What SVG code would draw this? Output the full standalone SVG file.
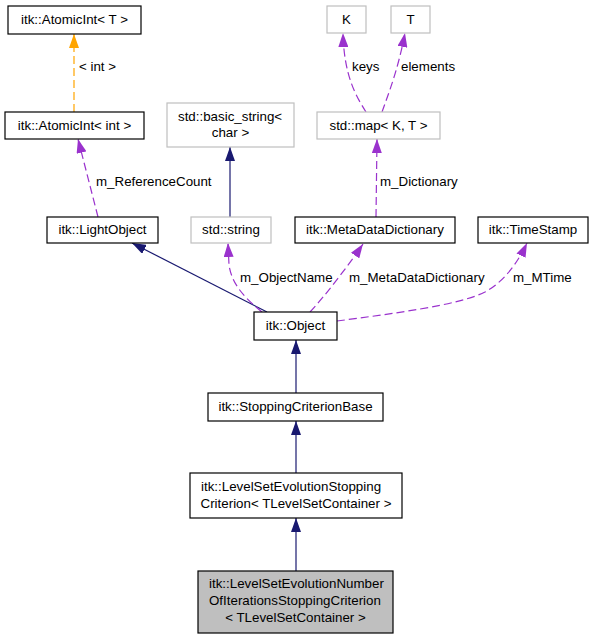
<svg xmlns="http://www.w3.org/2000/svg" width="593" height="640" viewBox="0 0 593 640">
<style>
.nb{fill:#ffffff;stroke:#000000;stroke-width:1.2}
.ng{fill:#ffffff;stroke:#bfbfbf;stroke-width:1.2}
.nf{fill:#bfbfbf;stroke:#000000;stroke-width:1.2}
text{font-family:"Liberation Sans",Arial,Helvetica,sans-serif;font-size:13.33px;fill:#000000}
.c{text-anchor:middle}
.s{text-anchor:start}
.e{fill:none;stroke-width:1.2}
.navy{stroke:#191970}
.purple{stroke:#9a32cd;stroke-dasharray:8,4}
.orange{stroke:#ffa500;stroke-dasharray:8,4}
</style>
<defs>
<marker id="an" viewBox="0 0 14 10" refX="14" refY="5" markerWidth="14" markerHeight="10" markerUnits="userSpaceOnUse" orient="auto"><path d="M0,0 L14,5 L0,10 z" fill="#191970"/></marker>
<marker id="ap" viewBox="0 0 14 10" refX="14" refY="5" markerWidth="14" markerHeight="10" markerUnits="userSpaceOnUse" orient="auto"><path d="M0,0 L14,5 L0,10 z" fill="#9a32cd"/></marker>
<marker id="ao" viewBox="0 0 14 10" refX="14" refY="5" markerWidth="14" markerHeight="10" markerUnits="userSpaceOnUse" orient="auto"><path d="M0,0 L14,5 L0,10 z" fill="#ffa500"/></marker>
</defs>
<rect width="593" height="640" fill="#ffffff"/>
<g id="edges">
<path class="e orange" d="M74,112 L74,34" marker-end="url(#ao)"/>
<text class="s" x="79" y="71">&lt; int &gt;</text>
<path class="e purple" d="M98,217 L78,139" marker-end="url(#ap)"/>
<text class="s" x="96" y="186">m_ReferenceCount</text>
<path class="e navy" d="M230,217 L230,147" marker-end="url(#an)"/>
<path class="e purple" d="M366,112 C356,96 344,76 343,33" marker-end="url(#ap)"/>
<text class="s" x="352" y="71">keys</text>
<path class="e purple" d="M382,112 C388,95 398,70 405,33" marker-end="url(#ap)"/>
<text class="s" x="401" y="71">elements</text>
<path class="e purple" d="M376,217 L377,139" marker-end="url(#ap)"/>
<text class="s" x="380" y="186">m_Dictionary</text>
<path class="e navy" d="M267,312 L132,243" marker-end="url(#an)"/>
<path class="e purple" d="M262,312 C245,298 232,285 229,265 L228,243" marker-end="url(#ap)"/>
<text class="s" x="240" y="282">m_ObjectName</text>
<path class="e purple" d="M310,312 C325,296 348,266 363,244" marker-end="url(#ap)"/>
<text class="s" x="349" y="282">m_MetaDataDictionary</text>
<path class="e purple" d="M337,321 C390,314 460,305 485,292 C505,281 518,262 527,243" marker-end="url(#ap)"/>
<text class="s" x="513" y="282">m_MTime</text>
<path class="e navy" d="M296,393 L296,340" marker-end="url(#an)"/>
<path class="e navy" d="M296,473 L296,421" marker-end="url(#an)"/>
<path class="e navy" d="M296,571 L296,518" marker-end="url(#an)"/>
</g>
<g id="atomicint_t"><rect class="nb" x="8" y="6" width="133" height="28"/><text class="c" x="74.5" y="24">itk::AtomicInt&lt; T &gt;</text></g>
<g id="atomicint_int"><rect class="nb" x="5" y="112" width="139" height="27"/><text class="c" x="74.5" y="130">itk::AtomicInt&lt; int &gt;</text></g>
<g id="basic_string"><rect class="ng" x="167" y="103" width="127" height="44"/><text class="s" x="178" y="121">std::basic_string&lt;</text><text class="c" x="230.5" y="137">char &gt;</text></g>
<g id="k"><rect class="ng" x="327" y="6" width="39" height="27"/><text class="c" x="346.5" y="24">K</text></g>
<g id="t"><rect class="ng" x="391" y="6" width="39" height="27"/><text class="c" x="410.5" y="24">T</text></g>
<g id="map"><rect class="ng" x="317" y="112" width="123" height="27"/><text class="c" x="378.5" y="130">std::map&lt; K, T &gt;</text></g>
<g id="lightobject"><rect class="nb" x="47" y="217" width="111" height="26"/><text class="c" x="102.5" y="234">itk::LightObject</text></g>
<g id="string"><rect class="ng" x="191" y="217" width="80" height="26"/><text class="c" x="231" y="234">std::string</text></g>
<g id="metadatadictionary"><rect class="nb" x="295" y="217" width="160" height="26"/><text class="c" x="375" y="234">itk::MetaDataDictionary</text></g>
<g id="timestamp"><rect class="nb" x="478" y="217" width="110" height="26"/><text class="c" x="533" y="234">itk::TimeStamp</text></g>
<g id="object"><rect class="nb" x="254" y="312" width="83" height="28"/><text class="c" x="295.5" y="330">itk::Object</text></g>
<g id="stoppingcriterionbase"><rect class="nb" x="208" y="393" width="175" height="28"/><text class="c" x="295.5" y="411">itk::StoppingCriterionBase</text></g>
<g id="levelsetevolutionstopping"><rect class="nb" x="190" y="473" width="212" height="45"/><text class="s" x="201" y="491">itk::LevelSetEvolutionStopping</text><text class="c" x="296" y="508">Criterion&lt; TLevelSetContainer &gt;</text></g>
<g id="numberofiterations"><rect class="nf" x="198" y="571" width="195" height="62"/><text class="s" x="209" y="588">itk::LevelSetEvolutionNumber</text><text class="s" x="209" y="605">OfIterationsStoppingCriterion</text><text class="c" x="295.5" y="622">&lt; TLevelSetContainer &gt;</text></g>
</svg>
